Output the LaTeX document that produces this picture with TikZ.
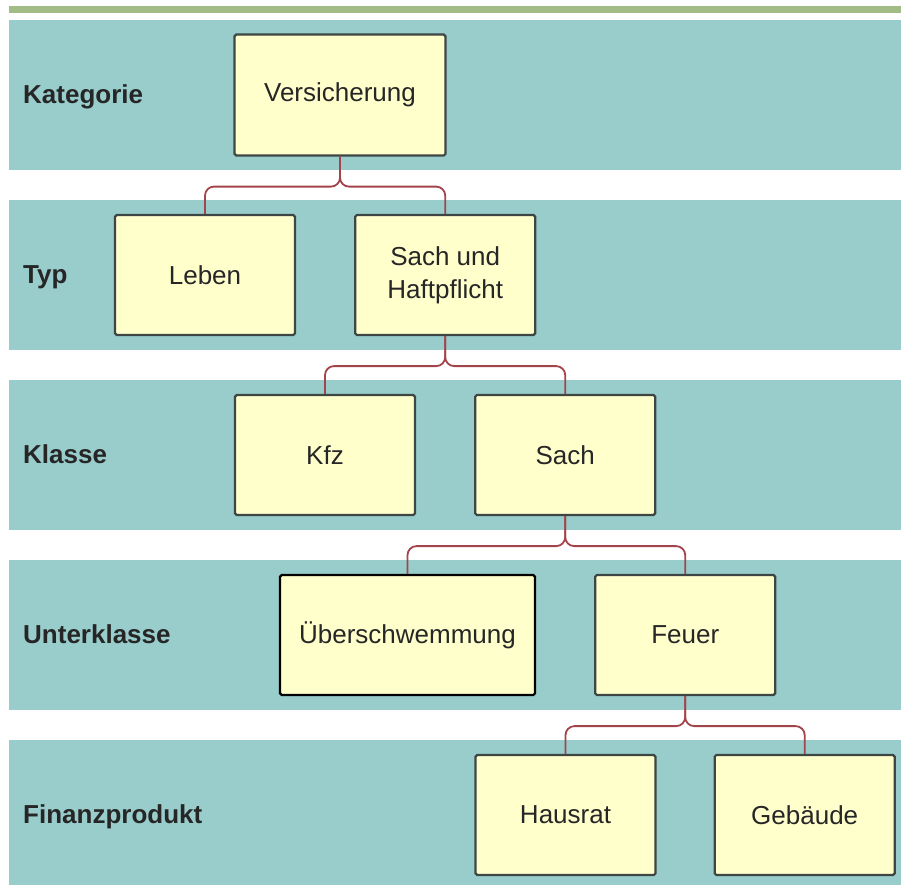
\documentclass[tikz,border=0pt]{standalone}
\usepackage{fontspec}
\setmainfont{Liberation Sans}
\usetikzlibrary{positioning}
\definecolor{bandcol}{HTML}{98CDCC}
\definecolor{barcol}{HTML}{A1BC86}
\definecolor{boxfill}{HTML}{FFFFCC}
\definecolor{boxline}{HTML}{3E4644}
\definecolor{linkcol}{HTML}{A3434B}
\definecolor{txtcol}{HTML}{262626}
\begin{document}
\begin{tikzpicture}[x=1pt, y=-1pt,
		band/.style={fill=bandcol, draw=none},
		rowlabel/.style={anchor=base west, inner sep=0pt, text=txtcol, font=\fontsize{26}{30}\selectfont\bfseries},
		box/.style={rectangle, draw=boxline, fill=boxfill, line width=2.2pt, minimum width=180pt, minimum height=120pt, rounded corners=.06cm, align=center, text=txtcol, font=\fontsize{26}{33}\selectfont},
		link/.style={draw=linkcol, line width=1.8pt, rounded corners=9pt}]
				\useasboundingbox (0,0) rectangle (901,884);
				% background bands
				\fill[barcol] (9,6) rectangle (901,13);
				\foreach \y in {20,200,380,560,740}
					\fill[band] (9,\y) rectangle (901,\y+150);
				\node[rowlabel] (lkat) at (23,103) {Kategorie};
				\node[rowlabel] (ltyp) at (23,283) {Typ};
				\node[rowlabel] (lkla) at (23,463) {Klasse};
				\node[rowlabel] (lunt) at (23,643) {Unterklasse};
				\node[rowlabel] (lfin) at (23,823) {Finanzprodukt};
				% boxes
				\node[box, minimum width=211pt, minimum height=121pt] (versicherung) at (340,95) {Versicherung};
				\node[box] (leben) at (205,275) {Leben};
				\node[box, right=58pt of leben] (sachhaft) {Sach und\\Haftpflicht};
				\node[box] (kfz) at (325,455) {Kfz};
				\node[box, right=58pt of kfz] (sach) {Sach};
				\node[box, minimum width=255pt, draw=black] (ueber) at (407.5,635) {Überschwemmung};
				\node[box, right=58pt of ueber] (feuer) {Feuer};
				\node[box] (hausrat) at (565.5,815) {Hausrat};
				\node[box, right=57pt of hausrat] (gebaeude) {Gebäude};
				% connectors
				\draw[link] (versicherung.south) -- ++(0,30) -| (leben.north);
				\draw[link] (versicherung.south) -- ++(0,30) -| (sachhaft.north);
				\draw[link] (sachhaft.south) -- ++(0,30) -| (kfz.north);
				\draw[link] (sachhaft.south) -- ++(0,30) -| (sach.north);
				\draw[link] (sach.south) -- ++(0,30) -| (ueber.north);
				\draw[link] (sach.south) -- ++(0,30) -| (feuer.north);
				\draw[link] (feuer.south) -- ++(0,30) -| (hausrat.north);
				\draw[link] (feuer.south) -- ++(0,30) -| (gebaeude.north);
			\end{tikzpicture}
\end{document}
